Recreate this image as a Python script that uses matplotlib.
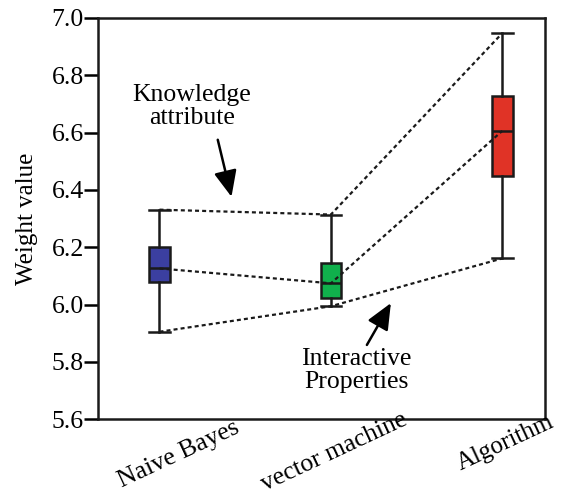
import matplotlib
matplotlib.use("Agg")
import matplotlib.pyplot as plt
import matplotlib.transforms as mtrans
from matplotlib import font_manager

categories = ["Naive Bayes", "vector machine", "Algorithm"]
whisker_low = [5.905, 5.994, 6.161]
q1 = [6.077, 6.023, 6.450]
median = [6.126, 6.074, 6.606]
q3 = [6.200, 6.146, 6.727]
whisker_high = [6.331, 6.314, 6.947]
colors = ["#3b3fa0", "#10b04c", "#e03326"]
yticks = [5.6, 5.8, 6.0, 6.2, 6.4, 6.6, 6.8, 7.0]

plt.rcParams['font.family'] = 'serif'
plt.rcParams['font.serif'] = ['Liberation Serif', 'Times New Roman', 'DejaVu Serif']

fig = plt.figure(figsize=(5.62, 4.99), dpi=100)
ax = fig.add_axes([0.174, 0.160, 0.796, 0.804])

pos = [1, 2, 3]
stats = []
for i, c in enumerate(categories):
    stats.append(dict(med=median[i], q1=q1[i], q3=q3[i],
                      whislo=whisker_low[i], whishi=whisker_high[i],
                      fliers=[], label=c))
bp = ax.bxp(stats, positions=pos, widths=0.12, patch_artist=True,
            showfliers=False,
            boxprops=dict(linewidth=1.8, edgecolor="#1a1a1a"),
            medianprops=dict(color="#1a1a1a", linewidth=1.8),
            whiskerprops=dict(color="#1a1a1a", linewidth=1.8),
            capprops=dict(color="#1a1a1a", linewidth=1.8),
            capwidths=0.12, zorder=3)
for patch, col in zip(bp['boxes'], colors):
    patch.set_facecolor(col)

# dotted connecting lines
for series in (whisker_high, median, whisker_low):
    ax.plot(pos, series, linestyle=(0, (1.8, 1.4)), color="#1a1a1a",
            linewidth=1.6, zorder=4)

ax.set_xlim(0.64, 3.25)
ax.set_ylim(5.6, 7.0)
ax.set_yticks(yticks)
ax.set_yticklabels([f"{v:.1f}" for v in yticks], fontsize=18.5)
ax.tick_params(axis='y', direction='out', length=10, width=1.8, pad=0)
ax.set_xticks(pos)
ax.set_xticklabels([])
ax.tick_params(axis='x', length=0)
for s in ax.spines.values():
    s.set_linewidth(1.8)
    s.set_color("#1a1a1a")

ax.set_ylabel("Weight value", fontsize=18, labelpad=10)

# rotated category labels
trans = mtrans.blended_transform_factory(ax.transData, ax.transAxes)
offsets = [(0.11, -0.088), (0.02, -0.082), (0.02, -0.06)]
sizes = [18.5, 18.5, 18]
for p, c, (dx, dy), fs in zip(pos, categories, offsets, sizes):
    ax.text(p + dx, dy, c, transform=trans, rotation=25, ha='center',
            va='center', fontsize=fs)

# annotations
arrow = dict(arrowstyle="-|>,head_length=1.6,head_width=0.7",
             color="black", lw=1.8, shrinkA=0, shrinkB=0)
ax.text(1.19, 6.69, "Knowledge\nattribute", ha='center', va='center',
        fontsize=18.5, linespacing=1.05)
ax.annotate("", xy=(1.42, 6.376), xytext=(1.34, 6.575), arrowprops=arrow)
ax.text(2.15, 5.77, "Interactive\nProperties", ha='center', va='center',
        fontsize=18.5, linespacing=1.05)
ax.annotate("", xy=(2.35, 6.005), xytext=(2.21, 5.859), arrowprops=arrow)

fig.savefig("out.png", dpi=100)
